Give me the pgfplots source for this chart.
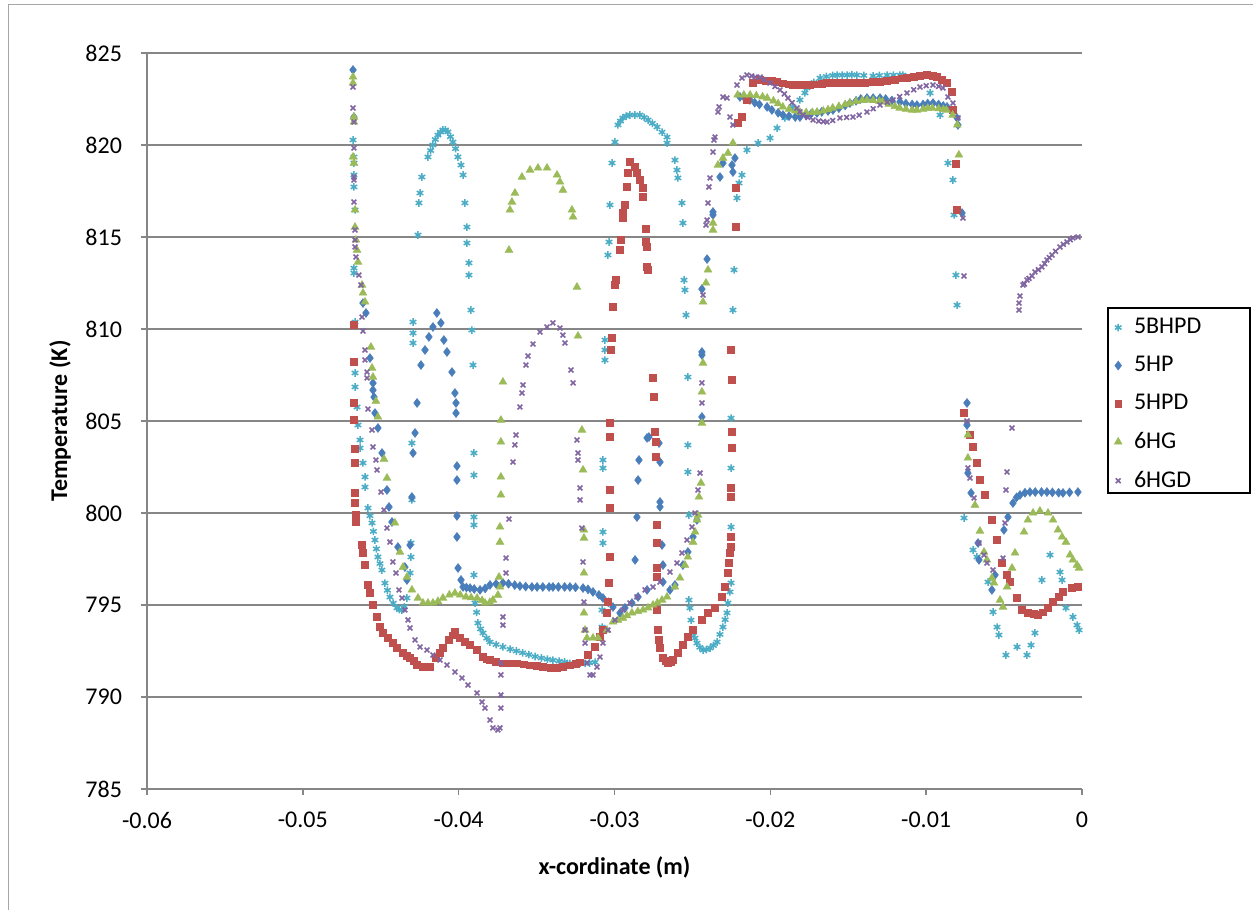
\documentclass[border=0pt]{standalone}
\usepackage{fontspec}
\setmainfont{Carlito}
\usepackage{pgfplots}
\pgfplotsset{compat=1.18}
\definecolor{cC}{RGB}{75,172,198}
\definecolor{cB}{RGB}{74,126,187}
\definecolor{cR}{RGB}{192,80,77}
\definecolor{cG}{RGB}{155,187,89}
\definecolor{cP}{RGB}{128,100,162}
\definecolor{gridc}{RGB}{134,134,134}
\begin{document}
\begin{tikzpicture}
\path[use as bounding box] (0,0) rectangle (626.5pt,455pt);
\draw[gray!70, line width=0.5pt] (4pt,0) -- (4pt,452.5pt) -- (626.5pt,452.5pt);
\begin{axis}[
 at={(73.5pt,60.5pt)}, anchor=south west,
 scale only axis, width=467.5pt, height=368pt,
 xmin=-0.06, xmax=0, ymin=785, ymax=825,
 scaled x ticks=false, scaled y ticks=false,
 xtick={-0.06,-0.05,-0.04,-0.03,-0.02,-0.01,0},
 xticklabels={-0.06,-0.05,-0.04,-0.03,-0.02,-0.01,0},
 ytick={785,790,795,800,805,810,815,820,825},
 yticklabels={785,790,795,800,805,810,815,820,825},
 axis line style={draw=none},
 ymajorgrids, major grid style={draw=gridc, line width=1pt},
 tick pos=left, tick align=outside, major tick length=3pt,
 tick style={draw=gridc, line width=0.75pt},
 ticklabel style={font=\fontsize{12}{14}\selectfont, text=black},
 xticklabel style={yshift=-5pt},
 yticklabel style={xshift=-6pt},
 every axis x label/.style={at={(axis description cs:0.5,0)}, anchor=center, yshift=-39pt, font=\bfseries\fontsize{12}{14}\selectfont},
 every axis y label/.style={at={(axis description cs:0,0.5)}, xshift=-43.5pt, rotate=90, anchor=center, font=\bfseries\fontsize{12}{14}\selectfont},
 xlabel={x-cordinate (m)}, ylabel={Temperature (K)},
 legend style={at={(1.0278,0.5226)}, anchor=west, draw=none, fill=none, font=\fontsize{12}{14}\selectfont, row sep=5.8pt, column sep=4pt, inner xsep=3pt, inner ysep=4pt},
 legend cell align=left,
]
\addplot[only marks, mark=asterisk, mark size=1.9pt, color=cC, mark options={line width=0.75pt}] table {
x y
-0.04678 820.27
-0.04672 819.35
-0.04672 819.02
-0.04672 818.37
-0.04672 817.72
-0.04665 816.47
-0.04672 813.31
-0.04672 813.04
-0.04665 810.38
-0.04665 807.61
-0.04665 806.85
-0.04652 805.76
-0.04646 804.78
-0.04633 803.97
-0.04633 803.53
-0.04614 802.72
-0.04601 801.96
-0.04601 801.41
-0.04582 800.27
-0.04569 799.85
-0.04556 799.46
-0.04547 799.0
-0.04537 798.53
-0.04528 798.05
-0.04518 797.61
-0.04505 797.25
-0.04492 796.90
-0.04473 796.19
-0.04457 795.8
-0.04441 795.43
-0.04420 795.1
-0.04396 794.84
-0.04380 794.75
-0.04364 794.73
-0.04348 794.9
-0.04332 795.38
-0.04312 796.74
-0.04306 797.61
-0.04306 798.37
-0.04300 800.71
-0.04300 803.80
-0.04293 809.24
-0.04293 809.78
-0.04293 810.38
-0.04261 815.11
-0.04255 816.85
-0.04248 817.39
-0.04236 818.26
-0.04197 819.35
-0.04180 819.7
-0.04165 820.00
-0.04150 820.3
-0.04133 820.54
-0.04117 820.7
-0.04101 820.82
-0.04085 820.82
-0.04069 820.71
-0.04053 820.45
-0.04037 820.16
-0.04020 819.8
-0.04005 819.35
-0.03985 818.91
-0.03972 818.37
-0.03960 816.85
-0.03947 815.54
-0.03947 814.67
-0.03934 813.59
-0.03934 812.93
-0.03921 811.03
-0.03915 809.94
-0.03908 808.04
-0.03902 803.26
-0.03902 802.06
-0.03902 799.78
-0.03902 799.35
-0.03902 796.63
-0.03895 795.11
-0.03885 794.60
-0.03876 794.02
-0.03860 793.70
-0.03844 793.48
-0.03820 793.20
-0.03799 792.99
-0.03760 792.85
-0.03716 792.72
-0.03670 792.60
-0.03630 792.50
-0.03590 792.40
-0.03550 792.30
-0.03510 792.20
-0.03470 792.12
-0.03430 792.05
-0.03395 792.00
-0.03355 791.95
-0.03320 791.90
-0.03286 791.83
-0.03250 791.83
-0.03220 791.83
-0.03189 791.83
-0.03160 791.85
-0.03125 791.89
-0.03080 793.80
-0.03080 794.73
-0.03074 798.37
-0.03074 798.97
-0.03074 802.44
-0.03074 802.88
-0.03061 808.31
-0.03061 808.86
-0.03061 809.40
-0.03042 814.02
-0.03035 814.73
-0.03029 816.74
-0.03016 819.02
-0.02997 820.16
-0.02978 821.09
-0.02962 821.30
-0.02946 821.47
-0.02925 821.57
-0.02901 821.63
-0.02870 821.63
-0.02837 821.63
-0.02810 821.50
-0.02785 821.36
-0.02757 821.18
-0.02727 820.98
-0.02695 820.70
-0.02663 820.43
-0.02663 820.11
-0.02612 819.18
-0.02599 818.64
-0.02593 818.21
-0.02567 816.85
-0.02561 815.76
-0.02554 812.66
-0.02548 812.12
-0.02541 810.76
-0.02529 807.39
-0.02529 803.69
-0.02529 802.23
-0.02522 799.89
-0.02522 795.27
-0.02516 794.84
-0.02509 794.18
-0.02496 793.48
-0.02484 793.20
-0.02471 792.93
-0.02452 792.70
-0.02432 792.55
-0.02410 792.58
-0.02387 792.66
-0.02365 792.80
-0.02342 792.99
-0.02323 793.40
-0.02304 793.80
-0.02290 794.20
-0.02278 794.57
-0.02272 795.11
-0.02259 795.71
-0.02252 796.20
-0.02252 799.24
-0.02252 802.44
-0.02252 805.16
-0.02240 811.03
-0.02233 813.21
-0.02214 817.12
-0.02201 817.93
-0.02182 818.37
-0.02150 819.73
-0.02079 820.11
-0.02002 820.38
-0.01957 820.92
-0.01906 821.47
-0.01855 822.07
-0.01810 822.45
-0.01778 822.83
-0.01765 823.10
-0.01720 823.40
-0.01681 823.64
-0.01640 823.72
-0.01600 823.78
-0.01572 823.80
-0.01540 823.80
-0.01508 823.80
-0.01476 823.82
-0.01444 823.80
-0.01400 823.78
-0.01341 823.75
-0.01300 823.78
-0.01251 823.80
-0.01210 823.80
-0.01168 823.80
-0.01149 823.80
-0.00975 822.83
-0.00911 821.63
-0.00860 819.02
-0.00828 818.10
-0.00821 816.20
-0.00809 812.93
-0.00802 811.30
-0.00757 799.73
-0.00699 797.99
-0.00674 797.61
-0.00603 796.25
-0.00571 794.62
-0.00545 793.80
-0.00533 793.37
-0.00488 792.28
-0.00417 792.72
-0.00353 792.28
-0.00327 792.82
-0.00302 793.48
-0.00257 796.36
-0.00205 797.72
-0.00141 796.79
-0.00128 796.36
-0.00103 794.84
-0.00058 794.35
-0.00032 793.91
-0.00019 793.64
};
\addplot[only marks, mark=diamond*, mark size=2.2pt, color=cB, mark options={line width=0.3pt}] table {
x y
-0.04678 824.08
-0.04672 821.52
-0.04614 811.41
-0.04595 810.87
-0.04569 808.42
-0.04550 807.06
-0.04550 806.68
-0.04543 806.30
-0.04537 805.43
-0.04518 804.62
-0.04492 803.26
-0.04460 801.25
-0.04447 800.33
-0.04428 799.51
-0.04390 798.15
-0.04345 797.06
-0.04332 796.36
-0.04312 798.26
-0.04300 800.87
-0.04293 803.26
-0.04280 804.35
-0.04267 805.98
-0.04242 808.04
-0.04216 808.86
-0.04191 809.57
-0.04165 810.11
-0.04140 810.87
-0.04114 810.33
-0.04095 809.40
-0.04075 808.75
-0.04043 807.66
-0.04024 806.52
-0.04017 805.98
-0.04017 805.43
-0.04011 802.55
-0.04011 801.79
-0.04011 799.84
-0.04011 798.70
-0.04004 797.01
-0.03985 796.36
-0.03972 795.98
-0.03950 795.95
-0.03927 795.92
-0.03900 795.87
-0.03863 795.82
-0.03830 795.90
-0.03799 796.09
-0.03760 796.15
-0.03716 796.20
-0.03680 796.15
-0.03640 796.08
-0.03607 796.03
-0.03570 796.00
-0.03530 795.98
-0.03497 795.98
-0.03460 795.98
-0.03420 795.98
-0.03395 795.98
-0.03360 795.98
-0.03320 795.98
-0.03286 795.98
-0.03250 795.96
-0.03202 795.92
-0.03170 795.85
-0.03138 795.71
-0.03100 795.55
-0.03074 795.38
-0.03040 795.15
-0.03010 794.89
-0.02965 794.57
-0.02933 794.84
-0.02888 795.11
-0.02849 795.44
-0.02791 795.82
-0.02689 796.25
-0.02644 795.82
-0.02612 796.09
-0.02561 797.17
-0.02529 797.88
-0.02496 798.70
-0.02471 799.62
-0.02439 805.22
-0.02439 808.59
-0.02439 808.75
-0.02439 812.17
-0.02406 813.80
-0.02868 797.45
-0.02856 799.78
-0.02849 801.79
-0.02843 802.88
-0.02791 804.08
-0.02779 804.13
-0.02714 803.80
-0.02708 802.77
-0.02708 800.60
-0.02708 800.33
-0.02695 798.26
-0.02689 797.17
-0.02368 816.20
-0.02368 816.36
-0.02323 818.26
-0.02304 819.02
-0.02246 818.91
-0.02240 818.53
-0.02227 819.29
-0.02195 822.61
-0.02160 822.50
-0.02131 822.45
-0.02100 822.30
-0.02070 822.20
-0.02021 822.07
-0.01990 821.90
-0.01950 821.75
-0.01919 821.63
-0.01880 821.57
-0.01840 821.52
-0.01810 821.52
-0.01770 821.60
-0.01740 821.68
-0.01701 821.74
-0.01670 821.80
-0.01630 821.85
-0.01598 821.90
-0.01560 822.00
-0.01520 822.15
-0.01489 822.28
-0.01450 822.40
-0.01420 822.50
-0.01380 822.55
-0.01340 822.55
-0.01296 822.55
-0.01260 822.50
-0.01220 822.42
-0.01168 822.34
-0.01130 822.25
-0.01090 822.20
-0.01059 822.17
-0.01020 822.20
-0.00990 822.25
-0.00956 822.28
-0.00920 822.20
-0.00890 822.12
-0.00866 822.07
-0.00830 821.80
-0.00802 821.47
-0.00796 821.09
-0.00770 816.30
-0.00738 805.98
-0.00738 804.78
-0.00732 802.17
-0.00712 801.09
-0.00667 798.37
-0.00661 797.45
-0.00578 795.82
-0.00558 796.63
-0.00501 799.08
-0.00475 799.78
-0.00443 800.54
-0.00420 800.85
-0.00398 800.98
-0.00366 801.10
-0.00334 801.14
-0.00300 801.14
-0.00260 801.14
-0.00225 801.14
-0.00190 801.12
-0.00150 801.10
-0.00122 801.09
-0.00080 801.12
-0.00026 801.14
};
\addplot[only marks, mark=square*, mark size=1.7pt, color=cR, mark options={line width=0.3pt}] table {
x y
-0.04672 810.22
-0.04672 808.21
-0.04672 805.98
-0.04672 805.05
-0.04665 803.48
-0.04665 802.72
-0.04665 801.09
-0.04665 800.54
-0.04659 799.89
-0.04659 799.51
-0.04620 798.26
-0.04614 797.83
-0.04601 797.17
-0.04582 796.09
-0.04569 795.65
-0.04550 795.00
-0.04524 794.35
-0.04505 793.80
-0.04486 793.48
-0.04454 793.21
-0.04425 792.95
-0.04396 792.66
-0.04357 792.39
-0.04335 792.25
-0.04312 792.12
-0.04290 791.95
-0.04267 791.74
-0.04229 791.63
-0.04200 791.63
-0.04184 791.63
-0.04146 792.12
-0.04120 792.40
-0.04101 792.66
-0.04062 793.10
-0.04040 793.35
-0.04024 793.53
-0.03992 793.21
-0.03960 793.00
-0.03927 792.83
-0.03882 792.55
-0.03844 792.17
-0.03820 792.05
-0.03799 792.00
-0.03760 791.92
-0.03716 791.83
-0.03670 791.83
-0.03626 791.83
-0.03580 791.78
-0.03542 791.72
-0.03500 791.68
-0.03459 791.63
-0.03410 791.60
-0.03369 791.58
-0.03330 791.65
-0.03286 791.72
-0.03250 791.80
-0.03221 791.89
-0.03170 792.28
-0.03125 792.72
-0.03093 793.26
-0.03074 793.64
-0.03048 794.57
-0.03042 795.16
-0.03035 796.20
-0.03029 797.61
-0.03029 800.27
-0.03029 801.25
-0.03029 804.13
-0.03029 804.89
-0.03023 808.86
-0.03016 809.51
-0.03010 811.19
-0.02997 812.39
-0.02990 812.66
-0.02965 814.29
-0.02958 814.84
-0.02946 816.03
-0.02946 816.30
-0.02933 816.74
-0.02920 817.72
-0.02913 818.48
-0.02901 819.07
-0.02869 818.80
-0.02856 818.48
-0.02837 818.10
-0.02817 817.66
-0.02817 817.17
-0.02798 815.43
-0.02798 814.73
-0.02791 814.46
-0.02791 813.37
-0.02785 813.21
-0.02753 807.34
-0.02747 806.30
-0.02740 804.40
-0.02734 803.86
-0.02734 803.04
-0.02727 799.35
-0.02727 798.37
-0.02727 797.01
-0.02727 796.52
-0.02727 794.73
-0.02721 793.64
-0.02714 793.10
-0.02708 792.66
-0.02689 792.12
-0.02670 791.95
-0.02657 791.85
-0.02640 791.90
-0.02625 792.01
-0.02593 792.39
-0.02561 792.83
-0.02529 793.26
-0.02496 793.64
-0.02439 794.19
-0.02400 794.57
-0.02355 794.84
-0.02310 795.44
-0.02291 795.98
-0.02272 796.74
-0.02265 797.28
-0.02259 797.83
-0.02252 798.15
-0.02252 798.70
-0.02252 800.87
-0.02252 801.36
-0.02246 803.53
-0.02246 804.40
-0.02246 807.23
-0.02252 808.86
-0.02220 815.54
-0.02220 817.66
-0.02208 821.20
-0.02182 821.52
-0.02150 822.45
-0.02111 823.37
-0.02066 823.53
-0.02030 823.50
-0.01990 823.47
-0.01957 823.42
-0.01920 823.35
-0.01880 823.30
-0.01855 823.26
-0.01820 823.26
-0.01780 823.26
-0.01745 823.26
-0.01710 823.30
-0.01670 823.33
-0.01636 823.37
-0.01600 823.37
-0.01570 823.37
-0.01534 823.37
-0.01500 823.37
-0.01460 823.37
-0.01425 823.37
-0.01390 823.40
-0.01341 823.42
-0.01300 823.45
-0.01251 823.48
-0.01200 823.55
-0.01160 823.62
-0.01123 823.66
-0.01080 823.72
-0.01040 823.77
-0.00995 823.80
-0.00960 823.75
-0.00930 823.69
-0.00900 823.55
-0.00866 823.37
-0.00834 822.88
-0.00828 821.90
-0.00809 818.97
-0.00802 816.47
-0.00757 805.43
-0.00719 804.24
-0.00699 803.59
-0.00674 802.72
-0.00655 801.79
-0.00622 800.98
-0.00578 799.62
-0.00545 798.53
-0.00513 797.28
-0.00481 796.63
-0.00462 796.25
-0.00417 795.38
-0.00385 794.73
-0.00347 794.57
-0.00310 794.50
-0.00282 794.46
-0.00250 794.60
-0.00218 794.84
-0.00186 795.16
-0.00150 795.45
-0.00122 795.71
-0.00064 795.92
-0.00026 795.98
};
\addplot[only marks, mark=triangle*, mark size=2.2pt, color=cG, mark options={line width=0.3pt}] table {
x y
-0.04678 823.70
-0.04678 823.37
-0.04672 821.52
-0.04672 821.25
-0.04678 819.35
-0.04672 819.02
-0.04665 816.47
-0.04665 815.54
-0.04659 814.84
-0.04652 814.29
-0.04646 813.64
-0.04620 812.39
-0.04614 811.96
-0.04601 811.47
-0.04563 809.02
-0.04556 807.88
-0.04550 807.39
-0.04531 806.08
-0.04518 805.22
-0.04479 802.93
-0.04460 801.90
-0.04409 799.46
-0.04377 797.88
-0.04357 797.06
-0.04332 796.52
-0.04300 795.82
-0.04261 795.38
-0.04229 795.11
-0.04197 795.11
-0.04165 795.11
-0.04133 795.20
-0.04101 795.38
-0.04060 795.55
-0.04024 795.65
-0.03990 795.55
-0.03953 795.44
-0.03920 795.40
-0.03882 795.38
-0.03850 795.25
-0.03831 795.11
-0.03800 795.15
-0.03780 795.27
-0.03748 795.54
-0.03735 795.98
-0.03741 796.52
-0.03735 798.42
-0.03735 799.24
-0.03729 800.98
-0.03729 801.96
-0.03729 803.86
-0.03729 805.05
-0.03716 807.12
-0.03677 814.29
-0.03671 816.47
-0.03658 816.90
-0.03639 817.39
-0.03594 818.26
-0.03542 818.64
-0.03491 818.75
-0.03433 818.75
-0.03369 818.37
-0.03350 817.99
-0.03331 817.55
-0.03273 816.47
-0.03266 816.09
-0.03241 812.28
-0.03234 809.62
-0.03209 804.51
-0.03202 802.34
-0.03196 799.08
-0.03196 798.64
-0.03196 796.74
-0.03196 794.57
-0.03189 793.64
-0.03177 793.21
-0.03138 793.21
-0.03106 793.21
-0.03048 793.64
-0.03010 794.08
-0.02978 794.18
-0.02946 794.29
-0.02920 794.42
-0.02888 794.57
-0.02850 794.65
-0.02817 794.73
-0.02785 794.85
-0.02753 795.00
-0.02725 795.12
-0.02695 795.27
-0.02663 795.44
-0.02612 795.98
-0.02580 796.47
-0.02548 797.17
-0.02529 797.61
-0.02496 798.42
-0.02483 798.97
-0.02471 799.62
-0.02464 799.89
-0.02458 800.87
-0.02445 801.63
-0.02439 804.89
-0.02439 806.58
-0.02432 808.15
-0.02432 811.47
-0.02413 812.50
-0.02400 813.21
-0.02368 815.38
-0.02368 815.76
-0.02336 818.91
-0.02304 819.29
-0.02272 819.56
-0.02240 820.11
-0.02210 822.72
-0.02170 822.72
-0.02130 822.72
-0.02090 822.68
-0.02050 822.62
-0.02020 822.55
-0.01980 822.40
-0.01950 822.25
-0.01920 822.07
-0.01880 821.95
-0.01840 821.85
-0.01810 821.79
-0.01770 821.77
-0.01730 821.77
-0.01700 821.79
-0.01660 821.85
-0.01630 821.92
-0.01600 822.01
-0.01560 822.10
-0.01520 822.20
-0.01490 822.28
-0.01450 822.37
-0.01410 822.43
-0.01380 822.45
-0.01340 822.43
-0.01300 822.38
-0.01280 822.34
-0.01240 822.22
-0.01200 822.10
-0.01170 822.01
-0.01130 821.95
-0.01090 821.90
-0.01060 821.90
-0.01020 821.95
-0.00990 822.00
-0.00960 822.01
-0.00920 821.97
-0.00890 821.93
-0.00870 821.90
-0.00830 821.63
-0.00800 821.09
-0.00790 819.46
-0.00732 804.24
-0.00732 802.99
-0.00687 800.43
-0.00655 799.02
-0.00629 797.88
-0.00610 797.45
-0.00578 796.47
-0.00565 796.20
-0.00526 795.27
-0.00507 794.89
-0.00481 795.98
-0.00449 797.01
-0.00430 797.83
-0.00372 798.97
-0.00347 799.62
-0.00314 800.00
-0.00270 800.11
-0.00218 800.00
-0.00186 799.62
-0.00154 799.08
-0.00128 798.70
-0.00103 798.42
-0.00077 797.72
-0.00058 797.45
-0.00032 797.17
-0.00019 797.01
};
\addplot[only marks, mark=x, mark size=1.7pt, color=cP, mark options={line width=0.8pt}] table {
x y
-0.04678 823.15
-0.04678 822.01
-0.04672 821.25
-0.04672 819.84
-0.04672 818.26
-0.04672 818.10
-0.04672 816.90
-0.04665 815.38
-0.04665 814.84
-0.04665 814.46
-0.04659 813.91
-0.04640 812.93
-0.04627 812.39
-0.04620 810.65
-0.04614 809.89
-0.04601 808.86
-0.04601 808.32
-0.04588 807.66
-0.04588 807.34
-0.04582 805.65
-0.04556 804.51
-0.04550 803.59
-0.04531 802.88
-0.04524 802.34
-0.04498 801.14
-0.04479 800.16
-0.04460 799.18
-0.04441 798.42
-0.04422 797.34
-0.04402 796.74
-0.04383 795.82
-0.04364 795.38
-0.04345 794.73
-0.04325 794.19
-0.04312 793.75
-0.04280 793.10
-0.04248 792.72
-0.04203 792.55
-0.04165 792.28
-0.04120 792.01
-0.04075 791.74
-0.04024 791.36
-0.03979 791.03
-0.03940 790.65
-0.03882 790.22
-0.03850 789.73
-0.03831 789.40
-0.03799 788.75
-0.03780 788.32
-0.03748 788.21
-0.03735 788.32
-0.03729 789.40
-0.03729 790.11
-0.03729 791.20
-0.03729 791.85
-0.03716 793.91
-0.03716 794.35
-0.03696 796.74
-0.03696 797.55
-0.03677 799.67
-0.03651 802.77
-0.03639 803.70
-0.03632 804.24
-0.03607 805.76
-0.03594 806.52
-0.03587 806.96
-0.03568 808.04
-0.03555 808.53
-0.03523 809.18
-0.03478 809.84
-0.03433 810.11
-0.03395 810.33
-0.03350 810.05
-0.03331 809.67
-0.03318 809.24
-0.03279 807.77
-0.03266 807.07
-0.03241 803.97
-0.03234 803.26
-0.03234 802.88
-0.03221 801.36
-0.03221 800.71
-0.03209 799.18
-0.03202 797.34
-0.03196 795.16
-0.03189 793.64
-0.03189 792.93
-0.03177 791.85
-0.03157 791.20
-0.03138 791.20
-0.03112 791.63
-0.03093 792.17
-0.03074 792.93
-0.03042 793.64
-0.02997 794.19
-0.02946 794.73
-0.02901 795.11
-0.02856 795.44
-0.02804 795.82
-0.02753 795.98
-0.02708 796.25
-0.02644 796.79
-0.02599 797.28
-0.02567 797.83
-0.02535 798.53
-0.02503 799.24
-0.02483 800.00
-0.02464 801.25
-0.02451 802.17
-0.02439 805.98
-0.02439 807.07
-0.02432 811.85
-0.02413 815.65
-0.02406 815.92
-0.02400 816.85
-0.02394 817.72
-0.02387 818.21
-0.02368 819.62
-0.02362 820.27
-0.02355 820.43
-0.02336 821.79
-0.02329 822.07
-0.02304 822.61
-0.02278 822.55
-0.02259 821.52
-0.02240 821.09
-0.02214 823.26
-0.02182 823.64
-0.02150 823.80
-0.02120 823.75
-0.02098 823.69
-0.02066 823.69
-0.02040 823.55
-0.02002 823.37
-0.01970 823.18
-0.01938 822.99
-0.01910 822.78
-0.01887 822.55
-0.01860 822.30
-0.01829 822.01
-0.01810 821.80
-0.01790 821.63
-0.01760 821.50
-0.01726 821.36
-0.01690 821.30
-0.01660 821.27
-0.01636 821.25
-0.01600 821.33
-0.01553 821.47
-0.01510 821.50
-0.01470 821.52
-0.01430 821.62
-0.01380 821.79
-0.01340 821.97
-0.01296 822.17
-0.01250 822.32
-0.01213 822.45
-0.01170 822.63
-0.01123 822.83
-0.01080 823.00
-0.01040 823.15
-0.01000 823.22
-0.00956 823.26
-0.00920 823.18
-0.00892 823.10
-0.00860 822.61
-0.00828 822.28
-0.00796 821.47
-0.00764 816.03
-0.00757 812.88
-0.00738 805.00
-0.00732 802.45
-0.00719 801.90
-0.00693 800.82
-0.00661 798.37
-0.00629 797.72
-0.00610 797.28
-0.00571 796.90
-0.00507 797.55
-0.00494 799.46
-0.00488 801.25
-0.00481 802.23
-0.00449 804.62
-0.00404 811.03
-0.00404 811.41
-0.00398 811.79
-0.00379 812.39
-0.00370 812.45
-0.00353 812.66
-0.00340 812.75
-0.00321 812.88
-0.00302 813.10
-0.00280 813.22
-0.00257 813.37
-0.00240 813.55
-0.00225 813.75
-0.00210 813.88
-0.00193 814.02
-0.00170 814.22
-0.00141 814.46
-0.00120 814.60
-0.00096 814.73
-0.00075 814.85
-0.00058 814.95
-0.00026 815.00
};
\legend{5BHPD,5HP,5HPD,6HG,6HGD}
\end{axis}
\draw[gridc, line width=1pt] (73.5pt,60.5pt) -- (73.5pt,428.5pt);
\draw[black, line width=1.2pt] (554pt,208.5pt) rectangle (625pt,301pt);
\end{tikzpicture}
\end{document}
